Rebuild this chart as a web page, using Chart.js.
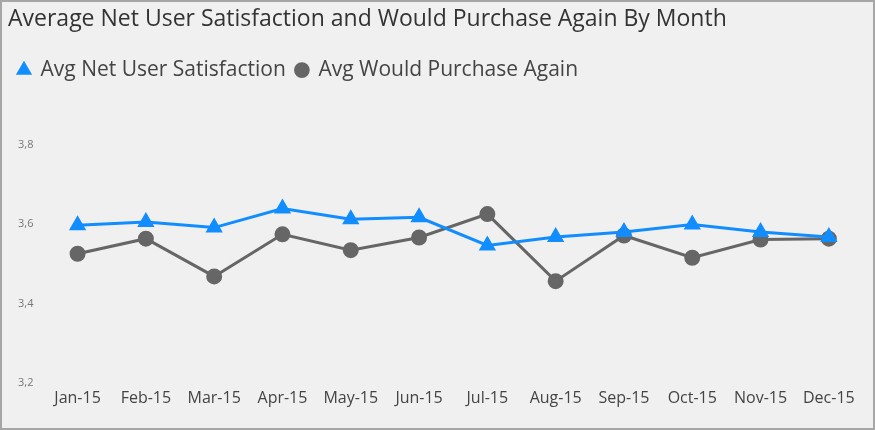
<!DOCTYPE html>
<html>
<head>
<meta charset="utf-8">
<script src="https://cdn.jsdelivr.net/npm/chart.js@4"></script>
<style>
  body { margin: 0; background: #fff; }
  #wrap { width: 871px; height: 426px; border: 2px solid #a6a6a6; background: #f0f0f0; }
</style>
</head>
<body>
<div id="wrap"><canvas id="chart" width="871" height="426"></canvas></div>
<script>
const months = ["Jan-15", "Feb-15", "Mar-15", "Apr-15", "May-15", "Jun-15",
  "Jul-15", "Aug-15", "Sep-15", "Oct-15", "Nov-15", "Dec-15"];
const satisfaction = [3.597, 3.605, 3.591, 3.639, 3.612, 3.617, 3.546, 3.567, 3.580, 3.599, 3.580, 3.567];
const purchaseAgain = [3.525, 3.563, 3.468, 3.574, 3.534, 3.566, 3.625, 3.456, 3.571, 3.515, 3.561, 3.563];
const yTicks = [3.2, 3.4, 3.6, 3.8];

// extra room between the legend and the plot
const legendGap = {
  id: "legendGap",
  beforeInit(chart) {
    const fit = chart.legend.fit;
    chart.legend.fit = function () {
      fit.bind(chart.legend)();
      this.height += 54;
    };
  },
};

const ctx = document.getElementById("chart").getContext("2d");
new Chart(ctx, {
  type: "line",
  data: {
    labels: months,
    datasets: [
      {
        label: "Avg Net User Satisfaction",
        data: satisfaction,
        borderColor: "#118DFF",
        backgroundColor: "#118DFF",
        borderWidth: 3,
        pointStyle: "triangle",
        pointRadius: 7,
        pointHoverRadius: 7,
      },
      {
        label: "Avg Would Purchase Again",
        data: purchaseAgain,
        borderColor: "#666666",
        backgroundColor: "#666666",
        borderWidth: 3,
        pointStyle: "circle",
        pointRadius: 6.5,
        pointHoverRadius: 6.5,
      },
    ],
  },
  options: {
    responsive: false,
    animation: false,
    layout: { padding: { left: 6, right: 2, top: 0, bottom: 14 } },
    plugins: {
      title: {
        display: true,
        text: "Average Net User Satisfaction and Would Purchase Again By Month",
        align: "start",
        color: "#333333",
        font: { family: "'Open Sans', sans-serif", size: 23, weight: "normal" },
        padding: { top: 4, bottom: 16 },
      },
      legend: {
        align: "start",
        labels: {
          usePointStyle: true,
          boxWidth: 12,
          boxHeight: 9,
          color: "#444444",
          font: { family: "'Open Sans', sans-serif", size: 21 },
          padding: 10,
        },
      },
      tooltip: { enabled: false },
    },
    scales: {
      x: {
        offset: true,
        grid: { display: false, drawTicks: false },
        border: { display: false },
        ticks: { color: "#444444", font: { family: "'Open Sans', sans-serif", size: 16 }, maxRotation: 0, padding: 6 },
      },
      y: {
        min: 3.2,
        max: 3.8,
        afterBuildTicks: (axis) => { axis.ticks = yTicks.map((v) => ({ value: v })); },
        grid: { display: false, drawTicks: false },
        border: { display: false },
        ticks: {
          color: "#777777",
          padding: 10,
          font: { family: "'Open Sans', sans-serif", size: 11 },
          callback: (v) => v.toFixed(1).replace(".", ","),
        },
      },
    },
  },
  plugins: [legendGap],
});
</script>
</body>
</html>
